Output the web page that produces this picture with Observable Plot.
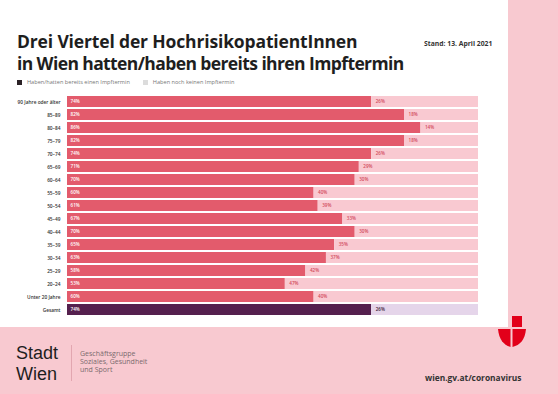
<!DOCTYPE html>
<html>
<head>
<meta charset="utf-8">
<script src="https://cdn.jsdelivr.net/npm/d3@7"></script>
<script src="https://cdn.jsdelivr.net/npm/@observablehq/plot@0.6"></script>
<style>
  html, body { margin: 0; padding: 0; }
  body { width: 558px; height: 394px; background: #f8c9d0; position: relative; overflow: hidden; font-family: "Open Sans", sans-serif; }
  #panel { position: absolute; left: 0; top: 0; width: 508px; height: 327px; background: #ffffff; }
  .title { position: absolute; left: 17px; top: 30px; font-weight: 700; font-size: 17.5px; line-height: 22px; color: #1e1e1e; white-space: nowrap; }
  .title .l1 { letter-spacing: -0.15px; display: block; }
  .title .l2 { letter-spacing: -0.6px; display: block; }
  .stand { position: absolute; left: 424px; top: 39px; font-weight: 700; font-size: 6.8px; color: #333; white-space: nowrap; }
  .legend { position: absolute; left: 17px; top: 78px; font-size: 5.6px; color: #777; white-space: nowrap; display: flex; align-items: center; }
  .legend .sw { display: inline-block; width: 5px; height: 5px; margin-right: 5px; }
  .legend .item { display: flex; align-items: center; margin-right: 13px; }
  #chart { position: absolute; left: 0; top: 85px; }
  .stadt { position: absolute; left: 16px; font-family: "Liberation Sans", sans-serif; font-size: 18px; line-height: 20px; height: 20px; color: #1e1e1e; }
  .vline { position: absolute; left: 71px; top: 345px; width: 1px; height: 36px; background: #e2a6b0; }
  .gg { position: absolute; left: 80px; top: 350px; font-size: 7px; line-height: 8.2px; color: #7a6a6e; }
  .url { position: absolute; left: 425px; top: 372px; font-size: 8.4px; font-weight: 700; color: #333; white-space: nowrap; }
  #logo { position: absolute; left: 496px; top: 314px; }
</style>
</head>
<body>
<div id="panel"></div>
<div class="title"><span class="l1">Drei Viertel der HochrisikopatientInnen</span><span class="l2">in Wien hatten/haben bereits ihren Impftermin</span></div>
<div class="stand">Stand: 13. April 2021</div>
<div class="legend">
  <span class="item"><span class="sw" style="background:#2b2226"></span>Haben/hatten bereits einen Impftermin</span>
  <span class="item"><span class="sw" style="background:#dcdcdc"></span>Haben noch keinen Impftermin</span>
</div>
<div id="chart"></div>
<div class="stadt" style="top:343px">Stadt</div>
<div class="stadt" style="top:363.5px">Wien</div>
<div class="vline"></div>
<div class="gg">Geschäftsgruppe<br>Soziales, Gesundheit<br>und Sport</div>
<div class="url">wien.gv.at/coronavirus</div>
<svg id="logo" width="32" height="36" viewBox="0 0 32 36">
  <rect x="16" y="2" width="10" height="11" fill="#e2001a"/>
  <path d="M2 15 H14.5 V33 C8 31 3 26 2 15 Z" fill="#e2001a"/>
  <path d="M16.5 15 H30 C29 26 24 31 16.5 33 Z" fill="#e2001a"/>
</svg>
<script>
const categories = ["90 Jahre oder älter","85–89","80–84","75–79","70–74","65–69","60–64","55–59","50–54","45–49","40–44","35–39","30–34","25–29","20–24","Unter 20 Jahre","Gesamt"];
const vaccinated = [74,82,86,82,74,71,70,60,61,67,70,65,63,58,53,60,74];
const notYet = [26,18,14,18,26,29,30,40,39,33,30,35,37,42,47,40,26];

const rows = categories.map((c, i) => ({cat: c, v: vaccinated[i], r: notYet[i], total: c === "Gesamt"}));

const plot = Plot.plot({
  width: 508,
  height: 240,
  marginLeft: 67,
  marginRight: 30,
  marginTop: 7.45,
  marginBottom: 6.35,
  style: {fontFamily: "Open Sans, sans-serif", background: "transparent"},
  x: {domain: [0, 100], axis: null},
  y: {domain: categories, padding: 0.14, label: null},
  color: {type: "identity"},
  marks: [
    Plot.barX(rows, {y: "cat", x1: 0, x2: "v", fill: d => d.total ? "#55204e" : "#e35b6c"}),
    Plot.barX(rows, {y: "cat", x1: "v", x2: 100, fill: d => d.total ? "#e5d5ea" : "#f9c9d1"}),
    Plot.text(rows, {y: "cat", x: 0, text: d => d.v + "%", dx: 3, textAnchor: "start", fill: "white", fontSize: 4.6, fontWeight: 600}),
    Plot.text(rows, {y: "cat", x: "v", text: d => d.r + "%", dx: 4, textAnchor: "start", fill: d => d.total ? "#3a1a35" : "#d2495c", fontSize: 4.6, fontWeight: 600}),
    Plot.axisY({tickSize: 0, tickPadding: 7, fontSize: 4.8, fill: "#333", fontWeight: 600, label: null})
  ]
});
document.getElementById("chart").appendChild(plot);
</script>
</body>
</html>
